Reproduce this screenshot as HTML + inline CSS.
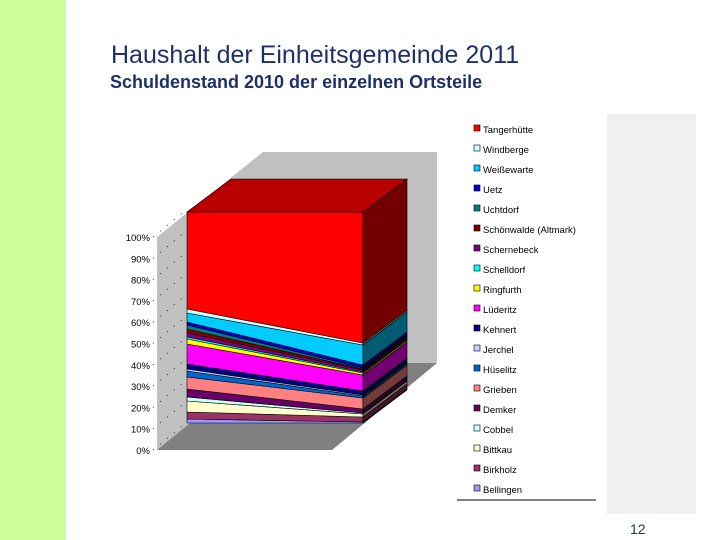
<!DOCTYPE html>
<html><head><meta charset="utf-8"><style>
body{margin:0;width:720px;height:540px;overflow:hidden;background:#fff;font-family:"Liberation Sans",sans-serif;position:relative}
</style></head><body>
<div style="position:absolute;left:0;top:0;width:66px;height:540px;background:#ccff99"></div>
<div style="position:absolute;left:607px;top:114px;width:89px;height:400px;background:#f0f0f0"></div>
<div style="position:absolute;left:111px;top:41px;font-size:25px;color:#1f2f6a;white-space:nowrap">Haushalt der Einheitsgemeinde 2011</div>
<div style="position:absolute;left:110px;top:72px;font-size:18px;font-weight:bold;color:#1f2f6a;white-space:nowrap">Schuldenstand 2010 der einzelnen Ortsteile</div>
<div style="position:absolute;left:630px;top:521px;font-size:14px;color:#1f2f6a">12</div>
<svg id="chart" width="720" height="540" style="position:absolute;left:0;top:0"></svg>
<script>
const categories=["Bellingen","Birkholz","Bittkau","Cobbel","Demker","Grieben","Hüselitz","Jerchel","Kehnert","Lüderitz","Ringfurth","Schelldorf","Schernebeck","Schönwalde (Altmark)","Uchtdorf","Uetz","Weißewarte","Windberge","Tangerhütte"];
const frontLeftValues=[4,7,11,4,8,12,6,2,5,20,5,2,4,4,4,3,9,4,97];
const frontRightValues=[1,5,3,1,4,11,2,1,4,16,2,1,2,1,1,3,20,2,131];
const colors=["#9999ff","#993366","#ffffcc","#ccffff","#660066","#ff8080","#0066cc","#ccccff","#000080","#ff00ff","#ffff00","#00ffff","#800080","#800000","#008080","#0000cc","#00ccff","#ccffff","#ff0000"];
const tickLabels=["0%","10%","20%","30%","40%","50%","60%","70%","80%","90%","100%"];
const NS="http://www.w3.org/2000/svg";
const svg=document.getElementById('chart');
function mk(t,a,p){const e=document.createElementNS(NS,t);for(const k in a)e.setAttribute(k,a[k]);(p||svg).appendChild(e);return e;}
function poly(pts,fill,stroke){return mk('polygon',{points:pts.map(p=>p.join(',')).join(' '),fill:fill,stroke:stroke||'none','stroke-width':0.6});}
function darken(h,f){const n=parseInt(h.slice(1),16);const r=Math.round((n>>16)*f),g=Math.round(((n>>8)&255)*f),b=Math.round((n&255)*f);return `rgb(${r},${g},${b})`;}
let w=poly([[157,237],[263,152],[263,363],[157,450]],'#c0c0c0');


w=poly([[263,152],[437,152],[437,363],[263,363]],'#c0c0c0');


w=poly([[157,450],[332,450],[437,363],[263,363]],'#808080');


const axisTop=237,axisBot=450;
function yAxis(p){return axisBot-(axisBot-axisTop)*p/100;}
tickLabels.forEach((t,i)=>{
  const y=yAxis(i*10);
  const tx=mk('text',{x:150,y:y+4,'text-anchor':'end','font-size':9.5,fill:'#000','font-family':'Liberation Sans, sans-serif'});
  tx.textContent=t;
  
  
  const d=mk('line',{x1:153,y1:y,x2:186,y2:y-27,stroke:'#000','stroke-width':0.8,'stroke-dasharray':'1 8'});
  
  
});
const x0=187,x1=363,dx=44,dy=-33,baseY=423,topY=212;
const totL=frontLeftValues.reduce((a,b)=>a+b,0),totR=frontRightValues.reduce((a,b)=>a+b,0);
function yL(v){return baseY-(baseY-topY)*v/totL;}
function yR(v){return baseY-(baseY-topY)*v/totR;}
let cl=0,cr=0;
categories.forEach((c,i)=>{
  const l0=yL(cl),r0=yR(cr);cl+=frontLeftValues[i];cr+=frontRightValues[i];
  const l1=yL(cl),r1=yR(cr);
  const f=poly([[x0,l0],[x1,r0],[x1,r1],[x0,l1]],colors[i],'#000');
  
  
  const s=poly([[x1,r0],[x1+dx,r0+dy],[x1+dx,r1+dy],[x1,r1]],darken(colors[i],0.45),'#000');
  
  
});
const tp=poly([[x0,topY],[x1,topY],[x1+dx,topY+dy],[x0+dx,topY+dy]],darken(colors[colors.length-1],0.72),'#000');


for(let j=0;j<categories.length;j++){
  const i=categories.length-1-j;const y=130+j*20;
  const r=mk('rect',{x:474,y:y-5,width:6,height:6,fill:colors[i],stroke:'#000','stroke-width':0.6});
  
  
  const t=mk('text',{x:483,y:y+3,'font-size':9.5,fill:'#000','font-family':'Liberation Sans, sans-serif'});
  t.textContent=categories[i];
  
  
}
const ln=mk('line',{x1:457,y1:500,x2:596,y2:500,stroke:'#000','stroke-width':1});


</script>
</body></html>
